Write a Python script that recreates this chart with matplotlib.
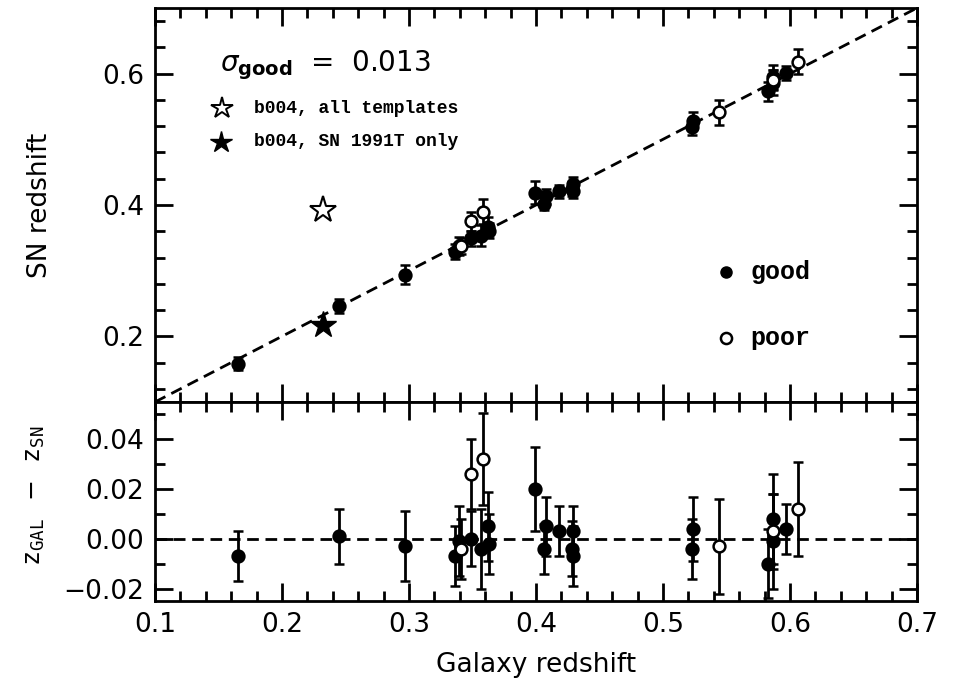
import numpy as np
import matplotlib
matplotlib.use('Agg')
import matplotlib.pyplot as plt
from matplotlib.ticker import MultipleLocator

# galaxy redshift, SN minus galaxy redshift, 1-sigma error, fit quality
z_gal = [0.165, 0.245, 0.297, 0.336, 0.339, 0.341, 0.349, 0.349, 0.358, 0.357,
         0.362, 0.363, 0.399, 0.406, 0.408, 0.418, 0.429, 0.428, 0.429, 0.523,
         0.524, 0.544, 0.583, 0.587, 0.587, 0.587, 0.597, 0.606]
dz = [-0.007, 0.001, -0.003, -0.007, -0.001, -0.004, 0.000, 0.026, 0.032, -0.004,
      0.005, -0.002, 0.020, -0.004, 0.005, 0.003, 0.003, -0.004, -0.007, -0.004,
      0.004, -0.003, -0.010, 0.008, 0.003, -0.001, 0.004, 0.012]
dz_err = [0.010, 0.011, 0.014, 0.012, 0.014, 0.012, 0.011, 0.014, 0.0185, 0.016,
          0.014, 0.012, 0.017, 0.010, 0.012, 0.010, 0.010, 0.011, 0.012, 0.012,
          0.013, 0.019, 0.014, 0.018, 0.015, 0.019, 0.010, 0.019]
quality = ['good', 'good', 'good', 'good', 'good', 'poor', 'good', 'poor', 'poor', 'good',
           'good', 'good', 'good', 'good', 'good', 'good', 'good', 'good', 'good', 'good',
           'good', 'poor', 'good', 'good', 'poor', 'good', 'good', 'poor']

# b004: redshift from all templates vs. SN 1991T template only
b004_zgal = 0.232
b004_all = 0.392
b004_91t = 0.218
sigma_good = 0.013

z_gal = np.array(z_gal)
dz = np.array(dz)
dz_err = np.array(dz_err)
z_sn = z_gal + dz
good = np.array(quality) == 'good'

fig = plt.figure(figsize=(9.55, 6.88), dpi=100)
ax1 = fig.add_axes([0.1623, 0.4157, 0.7979, 0.5727])
ax2 = fig.add_axes([0.1623, 0.1265, 0.7979, 0.2892], sharex=ax1)

lw = 2.0
ms = 8.5
dash = (4.2, 2.4)

def style(ax):
    for s in ax.spines.values():
        s.set_linewidth(lw)
    ax.tick_params(which='both', direction='in', top=True, right=True,
                   width=lw, labelsize=19, pad=8)
    ax.tick_params(which='major', length=13)
    ax.tick_params(which='minor', length=7)
    ax.xaxis.set_major_locator(MultipleLocator(0.1))
    ax.xaxis.set_minor_locator(MultipleLocator(0.02))

def points(ax, y):
    for sel, face in [(good, 'k'), (~good, 'white')]:
        ax.errorbar(z_gal[sel], y[sel], yerr=dz_err[sel], fmt='o', ms=ms,
                    mfc=face, mec='k', mew=1.8, ecolor='k', elinewidth=lw,
                    capsize=3.5, capthick=lw, zorder=3)

# upper panel: SN redshift against galaxy redshift
line = np.array([0.1, 0.7])
ax1.plot(line, line, color='k', lw=lw, dashes=dash)
points(ax1, z_sn)
ax1.plot(b004_zgal, b004_all, marker='*', ms=20, mfc='white', mec='k', mew=1.5, ls='none')
ax1.plot(b004_zgal, b004_91t, marker='*', ms=20, mfc='k', mec='k', ls='none')

ax1.text(0.151, 0.613, r'$\sigma_{\mathbf{good}}$  =  %.3f' % sigma_good, fontsize=20,
         ha='left', va='center')
ax1.plot(0.1525, 0.547, marker='*', ms=16, mfc='white', mec='k', mew=1.4, ls='none')
ax1.plot(0.152, 0.496, marker='*', ms=16, mfc='k', mec='k', ls='none')
ax1.text(0.178, 0.547, 'b004, all templates', fontsize=13, family='Liberation Mono',
         weight='bold', ha='left', va='center')
ax1.text(0.178, 0.496, 'b004, SN 1991T only', fontsize=13, family='Liberation Mono',
         weight='bold', ha='left', va='center')
ax1.plot(0.550, 0.2985, 'o', ms=8, mfc='k', mec='k', ls='none')
ax1.plot(0.550, 0.198, 'o', ms=8, mfc='white', mec='k', mew=1.8, ls='none')
ax1.text(0.569, 0.2985, 'good', fontsize=18, family='Liberation Mono', weight='bold',
         ha='left', va='center')
ax1.text(0.569, 0.198, 'poor', fontsize=18, family='Liberation Mono', weight='bold',
         ha='left', va='center')

ax1.set_xlim(0.1, 0.7)
ax1.set_ylim(0.1, 0.7)
ax1.yaxis.set_major_locator(MultipleLocator(0.2))
ax1.yaxis.set_minor_locator(MultipleLocator(0.04))
style(ax1)
ax1.tick_params(labelbottom=False)

# lower panel: residuals
ax2.axhline(0, color='k', lw=lw, dashes=dash)
points(ax2, dz)
ax2.set_ylim(-0.025, 0.055)
ax2.yaxis.set_major_locator(MultipleLocator(0.02))
ax2.yaxis.set_minor_locator(MultipleLocator(0.01))
ax2.yaxis.set_major_formatter(matplotlib.ticker.FuncFormatter(
    lambda v, p: ('%.2f' % v).replace('-', '\u2212')))
ax2.xaxis.set_major_formatter(matplotlib.ticker.FormatStrFormatter('%.1f'))
style(ax2)

fig.text(0.0419, 0.702, 'SN redshift', fontsize=19, rotation=90, ha='center', va='center')
fig.text(0.0366, 0.280, r'$\mathtt{z_{GAL}}$  $-$  $\mathtt{z_{SN}}$', fontsize=18,
         rotation=90, ha='center', va='center', weight='bold')
fig.text(0.5613, 0.0334, 'Galaxy redshift', fontsize=19, ha='center', va='center')

plt.savefig('out.png', dpi=100)
